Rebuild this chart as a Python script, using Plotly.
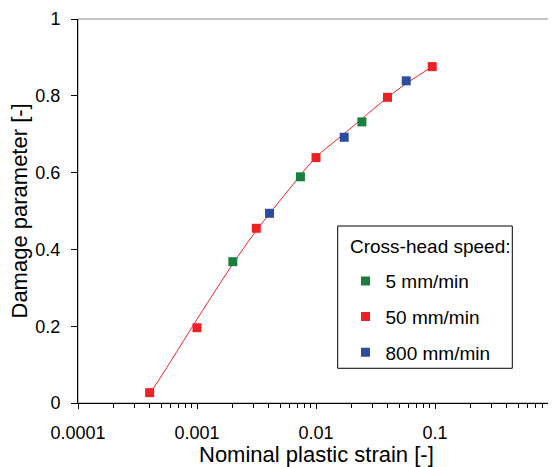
import plotly.graph_objects as go

# ---- data ----
strain_5 = [0.002, 0.0074, 0.0243]
damage_5 = [0.368, 0.589, 0.732]

strain_50 = [0.0004, 0.001, 0.00315, 0.01, 0.0399, 0.0948]
damage_50 = [0.027, 0.196, 0.455, 0.639, 0.796, 0.876]

strain_800 = [0.00407, 0.01726, 0.0573]
damage_800 = [0.494, 0.692, 0.839]

fit_strain = [0.00042, 0.0006, 0.001, 0.0015, 0.002, 0.003, 0.004, 0.006,
              0.01, 0.015, 0.02, 0.03, 0.04, 0.06, 0.095]
fit_damage = [0.033, 0.108, 0.218, 0.303, 0.362, 0.440, 0.490, 0.558,
              0.640, 0.686, 0.718, 0.764, 0.796, 0.836, 0.876]

x_tickvals = [0.0001, 0.001, 0.01, 0.1, 1]
x_ticktext = ["0.0001", "0.001", "0.01", "0.1", "1"]
x_minor = [m * 10 ** e for e in range(-4, 0) for m in range(2, 10)]
y_tickvals = [0, 0.2, 0.4, 0.6, 0.8, 1]
y_ticktext = ["0", "0.2", "0.4", "0.6", "0.8", "1"]

series_names = ["5 mm/min", "50 mm/min", "800 mm/min"]
legend_title = "Cross-head speed:"
colors = ["#17803d", "#ee2125", "#2d4da0"]

FONT = "Liberation Sans, Arial, sans-serif"

fig = go.Figure()
fig.add_trace(go.Scatter(x=fit_strain, y=fit_damage, mode="lines",
                         line=dict(color="#ee2125", width=1, shape="spline"),
                         showlegend=False, hoverinfo="skip"))
for i, (xs, ys) in enumerate([(strain_5, damage_5), (strain_50, damage_50),
                              (strain_800, damage_800)]):
    fig.add_trace(go.Scatter(x=xs, y=ys, mode="markers", name=series_names[i],
                             legendgroup=str(i),
                             marker=dict(symbol="square", size=9, color=colors[i],
                                         line=dict(width=0))))

fig.update_layout(
    width=548, height=459,
    margin=dict(l=70, r=2, t=11, b=64, autoexpand=False),
    paper_bgcolor="white", plot_bgcolor="white",
    font=dict(family=FONT, size=18, color="black"),
    legend=dict(
        x=0.562, y=0.367, xanchor="left", yanchor="top",
        borderwidth=0, bgcolor="rgba(0,0,0,0)",
        font=dict(size=19), tracegroupgap=8, itemsizing="trace",
    ),
    shapes=[
        dict(type="rect", xref="x domain", yref="y domain",
             x0=0, x1=1, y0=0, y1=1, line=dict(color="#888888", width=1),
             layer="below"),
        dict(type="rect", xref="x domain", yref="y domain",
             x0=0.5456, x1=0.9124, y0=0.0904, y1=0.4609,
             line=dict(color="black", width=1), fillcolor="white", layer="below"),
    ],
    annotations=[
        dict(text="Nominal plastic strain [-]", xref="paper", yref="paper",
             x=0.5, y=-0.135, xanchor="center", yanchor="middle",
             showarrow=False, font=dict(size=22)),
        dict(text="Damage parameter [-]", xref="paper", yref="paper",
             x=-0.125, y=0.5, xanchor="center", yanchor="middle", textangle=-90,
             showarrow=False, font=dict(size=22)),
        dict(text=legend_title, xref="x domain", yref="y domain",
             x=0.5672, y=0.407, xanchor="left", yanchor="middle",
             showarrow=False, font=dict(size=19)),
    ],
)
fig.update_xaxes(
    type="log", range=[-4, 0], tickmode="array", tickvals=x_tickvals,
    ticktext=x_ticktext, ticks="outside", ticklen=5, tickcolor="black",
    showline=True, linecolor="black", linewidth=1, showgrid=False, zeroline=False,
    minor=dict(tickmode="array", tickvals=x_minor, ticks="outside", ticklen=4,
               tickcolor="black", showgrid=False),
    automargin=False, ticklabeloverflow="allow", ticklabelstandoff=8,
)
fig.update_yaxes(
    range=[0, 1], tickmode="array", tickvals=y_tickvals, ticktext=y_ticktext,
    ticks="outside", ticklen=6, tickcolor="black",
    showline=True, linecolor="black", linewidth=1, showgrid=False, zeroline=False,
    automargin=False, ticklabelstandoff=7,
)

fig.write_html("out.html")
